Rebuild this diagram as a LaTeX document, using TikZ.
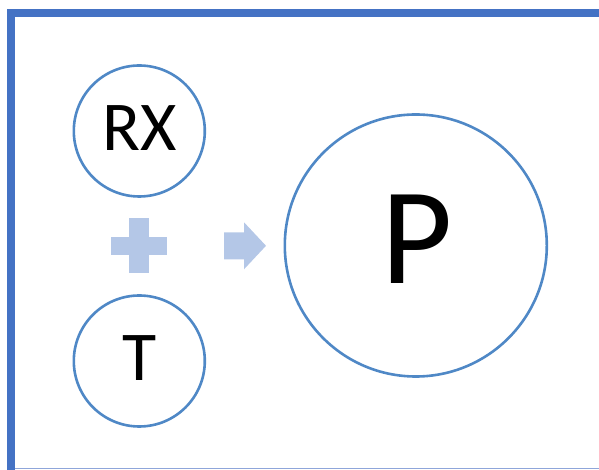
\documentclass[tikz,border=0pt]{standalone}
\usepackage{fontspec}
\setmainfont{Carlito}
\definecolor{frameblue}{HTML}{4472C4}
\definecolor{ringblue}{HTML}{4F88C6}
\definecolor{paleblue}{HTML}{B4C7E7}
\definecolor{thinline}{HTML}{8FA6DA}
\tikzset{
  ring/.style={circle, draw=ringblue, line width=2.6pt, inner sep=0pt},
  lbl/.style={anchor=base, inner sep=0pt, text=black},
  shapefill/.style={fill=paleblue, draw=none}
}
\begin{document}
\begin{tikzpicture}[x=1pt,y=1pt]
\useasboundingbox (0,0) rectangle (599,470);
% frame
\fill[frameblue] (7.4,0) rectangle (15.3,460.7);
\fill[frameblue] (7.4,452.7) rectangle (599,460.7);
\draw[thinline, line width=1pt] (15.3,1) -- (599,1);
% circles
\node[ring, minimum size=131pt] (rx) at (139.3,339) {};
\node[ring, minimum size=131pt] (t) at (139.3,109) {};
\node[ring, minimum size=262pt] (p) at (415.8,224.5) {};
% labels
\node[lbl, font=\fontsize{70}{70}\selectfont] (rxl) at (139.5,319) {RX};
\node[lbl, font=\fontsize{70}{70}\selectfont] (tl) at (139.5,89) {T};
\node[lbl, font=\fontsize{138}{138}\selectfont] (pl) at (417,186) {P};
% plus
\fill[shapefill] (129,252) rectangle (149.3,197);
\fill[shapefill] (111,233.3) rectangle (166.7,215);
% arrow
\fill[shapefill] (224,237.7) -- (244,237.7) -- (244,247.7) -- (266,224.2) -- (244,200.7) -- (244,210.7) -- (224,210.7) -- cycle;
\end{tikzpicture}
\end{document}
